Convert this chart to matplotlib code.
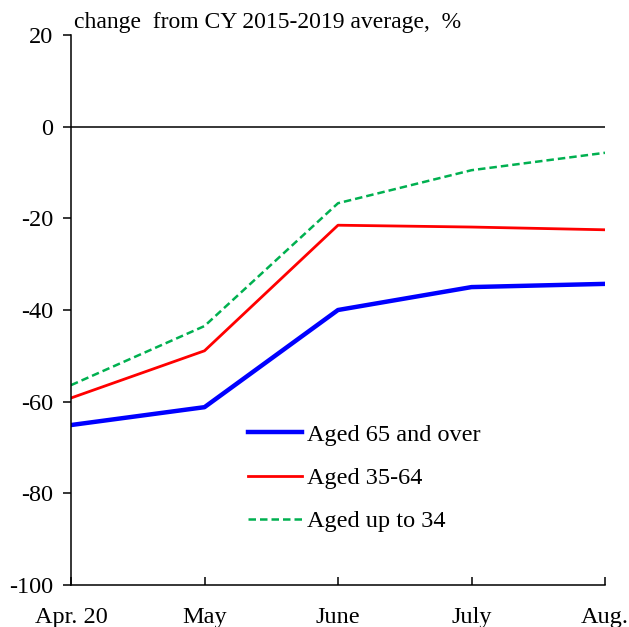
import matplotlib
matplotlib.use("Agg")
import matplotlib.pyplot as plt

# ── Data ──────────────────────────────────────────────────────────────────────
months = ["Apr. 20", "May", "June", "July", "Aug."]
aged_65_over = [-65.1, -61.2, -40.0, -35.0, -34.3]
aged_35_64 = [-59.2, -48.9, -21.5, -21.9, -22.5]
aged_up_to_34 = [-56.4, -43.5, -16.7, -9.5, -5.7]
y_ticks = [20, 0, -20, -40, -60, -80, -100]

plt.rcParams["font.family"] = ["Liberation Serif", "DejaVu Serif"]
plt.rcParams["axes.unicode_minus"] = False

fig = plt.figure(figsize=(6.29, 6.27), dpi=100)
ax = fig.add_axes([71 / 629, 42 / 627, 534 / 629, 550 / 627])

x = range(len(months))
ax.plot(x, aged_65_over, color="#0000FF", lw=3.2, label="Aged 65 and over")
ax.plot(x, aged_35_64, color="#FF0000", lw=2.0, label="Aged 35-64")
ax.plot(x, aged_up_to_34, color="#00B050", lw=1.8, ls=(0, (3, 1.6)), label="Aged up to 34")

ax.axhline(0, color="black", lw=1.1, zorder=0)

ax.set_xlim(0, len(months) - 1)
ax.set_ylim(-100, 20)
ax.set_yticks(y_ticks)
ax.set_xticks(list(x))
ax.set_xticklabels(months)

for side in ("top", "right"):
    ax.spines[side].set_visible(False)
for side in ("left", "bottom"):
    ax.spines[side].set_linewidth(1.1)

ax.tick_params(axis="y", direction="out", length=6, width=1.1, pad=7, labelsize=17.5)
ax.tick_params(axis="x", direction="in", length=6, width=1.1, pad=16, labelsize=17.5)

ax.legend(loc="upper left", bbox_to_anchor=(0.314, 0.311), frameon=False, fontsize=17.5,
          handlelength=2.2, handletextpad=0.2, labelspacing=0.88, borderaxespad=0)

fig.text(74 / 629, 1 - 28 / 627, "change  from CY 2015-2019 average,  %", fontsize=17,
         va="baseline", ha="left")

fig.savefig("out.png", dpi=100)
